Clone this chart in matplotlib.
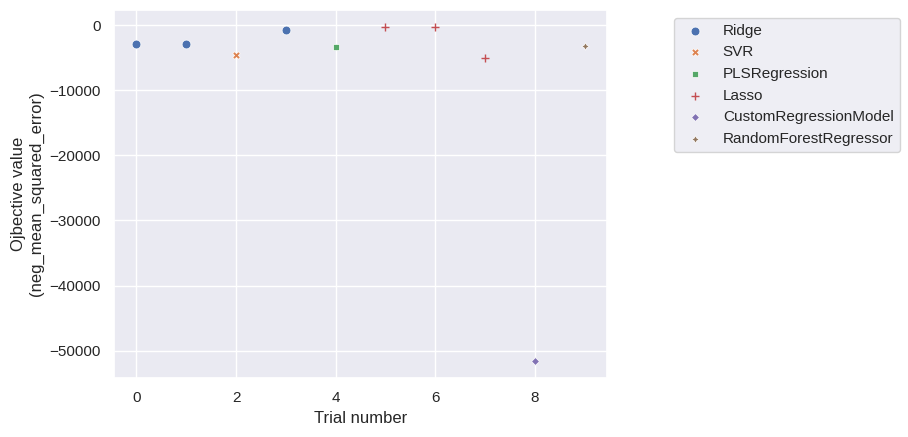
import matplotlib
matplotlib.use("Agg")
import matplotlib.pyplot as plt
import seaborn as sns

# valores
trial_number = [0, 1, 2, 3, 4, 5, 6, 7, 8, 9]
objective_value = [-2960, -2960, -4550, -720, -3420, -260, -260, -5110, -51620, -3270]
model = ["Ridge", "Ridge", "SVR", "Ridge", "PLSRegression", "Lasso", "Lasso",
         "Lasso", "CustomRegressionModel", "RandomForestRegressor"]
model_order = ["Ridge", "SVR", "PLSRegression", "Lasso",
               "CustomRegressionModel", "RandomForestRegressor"]
markers = ["o", "X", "s", "+", "D", (4, 1, 0)]
sizes = [40, 30, 22, 40, 16, 30]

sns.set_theme(style="darkgrid")
plt.rcParams['font.family'] = ['Liberation Sans', 'DejaVu Sans']
colores = sns.color_palette("deep", len(model_order))

fig = plt.figure(figsize=(9.08, 4.37), dpi=100)
ax = fig.add_axes([0.1256, 0.135, 0.543, 0.842])

# dibujamos cada modelo con su color y marcador
for i, nombre in enumerate(model_order):
    xs = [t for t, m in zip(trial_number, model) if m == nombre]
    ys = [v for v, m in zip(objective_value, model) if m == nombre]
    if markers[i] == "+":
        ax.scatter(xs, ys, marker=markers[i], s=sizes[i], color=colores[i],
                   linewidths=1.0, label=nombre)
    else:
        ax.scatter(xs, ys, marker=markers[i], s=sizes[i], color=colores[i],
                   edgecolors="white", linewidths=0.5, label=nombre)

ax.set_xlabel("Trial number")
ax.set_ylabel("Ojbective value\n(neg_mean_squared_error)")
ax.legend(loc="upper left", bbox_to_anchor=(1.12, 1.0))

fig.savefig("out.png")
